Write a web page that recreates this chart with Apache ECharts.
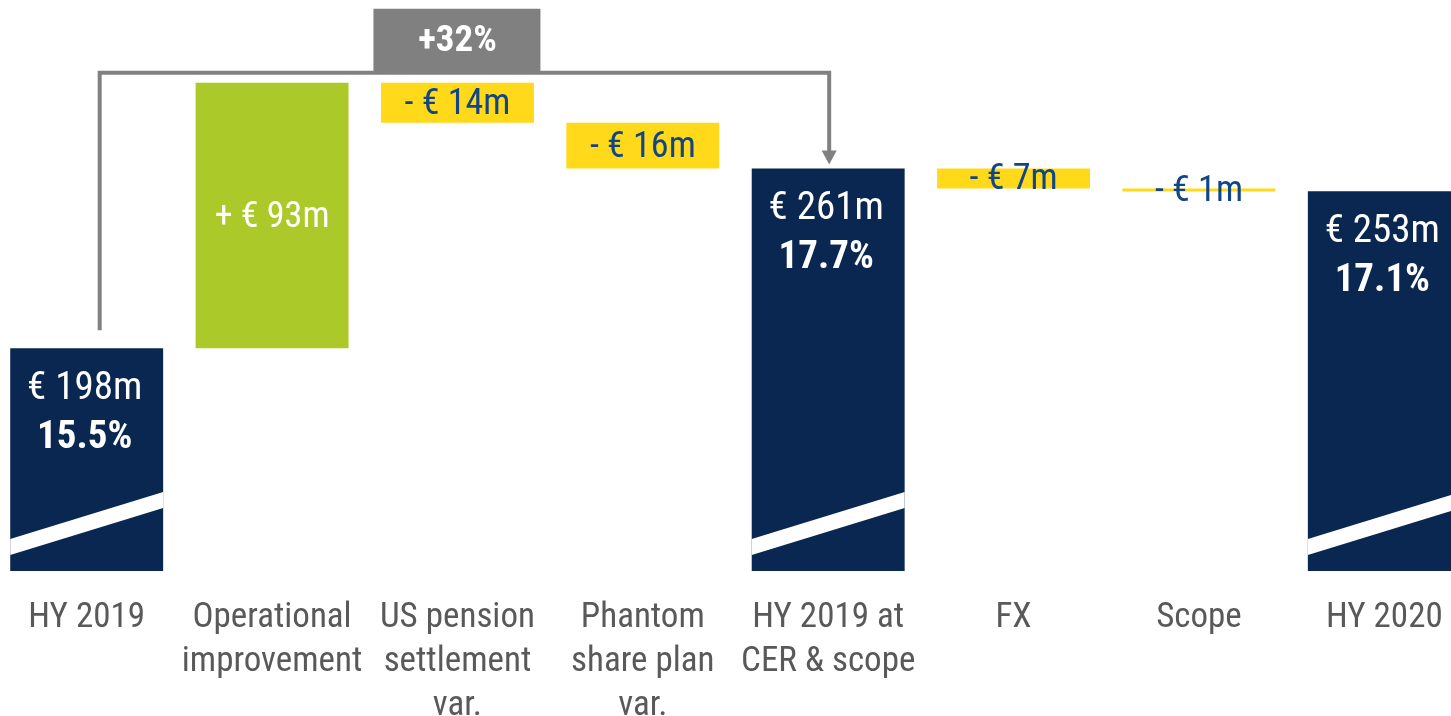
<!DOCTYPE html>
<html>
<head>
<meta charset="utf-8">
<script src="https://cdn.jsdelivr.net/npm/echarts@6/dist/echarts.min.js"></script>
<style>
html,body{margin:0;padding:0;background:#fff;}
#c{width:1451px;height:716px;}
</style>
</head>
<body>
<div id="c"></div>
<script>
const categories = ['HY 2019', 'Operational\nimprovement', 'US pension\nsettlement\nvar.', 'Phantom\nshare plan\nvar.', 'HY 2019 at\nCER & scope', 'FX', 'Scope', 'HY 2020'];
const values = [198, 93, -14, -16, 261, -7, -1, 253];
const kinds = ['total', 'delta', 'delta', 'delta', 'total', 'delta', 'delta', 'total'];
const valueLabels = ['€ 198m', '+ € 93m', '- € 14m', '- € 16m', '€ 261m', '- € 7m', '- € 1m', '€ 253m'];
const marginLabels = ['15.5%', '', '', '', '17.7%', '', '', '17.1%'];
const growthLabel = '+32%';
const growthFrom = 0, growthTo = 4, growthLabelAt = 2;
const axisBreakMin = 120;
const axisMax = 320;

const FONT = "'Roboto Condensed','Liberation Sans Narrow','Arial Narrow',Arial,sans-serif";
const NAVY = '#0a2752', GREEN = '#acc92a', YELLOW = '#ffd91a', TEXTBLUE = '#124585', GREY = '#808080';

// build waterfall segments
let running = 0, maxLevel = 0;
const segs = values.map((v, i) => {
  let s, e;
  if (kinds[i] === 'total') { s = axisBreakMin; e = v; running = v; }
  else { s = running; e = running + v; running = e; }
  maxLevel = Math.max(maxLevel, s, e);
  return [i, s, e];
});

const chart = echarts.init(document.getElementById('c'), null, {renderer: 'canvas'});

function renderBar(params, api) {
  const i = api.value(0), s = api.value(1), e = api.value(2);
  const p0 = api.coord([i, s]), p1 = api.coord([i, e]);
  const bw = api.size([1, 0])[0] * 0.825;
  const x = p0[0] - bw / 2;
  const top = Math.min(p0[1], p1[1]);
  const h = Math.max(Math.abs(p0[1] - p1[1]), 3);
  const kind = kinds[i];
  const children = [];
  if (kind === 'total') {
    children.push({type: 'rect', shape: {x: x, y: top, width: bw, height: Math.abs(p0[1] - p1[1])}, style: {fill: NAVY}});
    const b = p0[1];
    children.push({type: 'polygon', shape: {points: [[x, b - 32], [x + bw, b - 79], [x + bw, b - 63], [x, b - 16]]}, style: {fill: '#ffffff'}});
    children.push({type: 'text', style: {text: valueLabels[i], x: p0[0] - 2, y: top + 41, align: 'center', verticalAlign: 'middle', fill: '#ffffff', font: '39px ' + FONT}});
    children.push({type: 'text', style: {text: marginLabels[i], x: p0[0] - 2, y: top + 90, align: 'center', verticalAlign: 'middle', fill: '#ffffff', font: 'bold 39px ' + FONT}});
  } else {
    const up = e > s;
    children.push({type: 'rect', shape: {x: x, y: top, width: bw, height: h}, style: {fill: up ? GREEN : YELLOW}});
    children.push({type: 'text', style: {text: valueLabels[i], x: p0[0], y: top + h / 2 + 2, align: 'center', verticalAlign: 'middle', fill: up ? '#ffffff' : TEXTBLUE, font: '36px ' + FONT}});
  }
  return {type: 'group', children: children};
}

function renderConnector(params, api) {
  const a = api.value(0), b = api.value(1), va = api.value(2), vb = api.value(3), lvl = api.value(4), li = api.value(5);
  const pa = api.coord([a, va]), pb = api.coord([b, vb]);
  const yl = api.coord([a, lvl])[1] - 10;
  const x0 = pa[0] + 13, y0 = pa[1] - 18;
  const x1 = pb[0] + 1, y1 = pb[1] - 4;
  const lx = api.coord([li, lvl])[0];
  return {type: 'group', children: [
    {type: 'polyline', shape: {points: [[x0, y0], [x0, yl], [x1, yl], [x1, y1 - 13]]}, style: {stroke: GREY, lineWidth: 4, fill: null, lineJoin: 'miter'}},
    {type: 'polygon', shape: {points: [[x1 - 7.5, y1 - 14], [x1 + 7.5, y1 - 14], [x1, y1]]}, style: {fill: GREY}},
    {type: 'rect', shape: {x: lx - 84, y: yl - 64, width: 167, height: 63}, style: {fill: GREY}},
    {type: 'text', style: {text: growthLabel, x: lx, y: yl - 31, align: 'center', verticalAlign: 'middle', fill: '#ffffff', font: 'bold 37px ' + FONT}}
  ]};
}

chart.setOption({
  animation: false,
  grid: {left: -6, right: -26, top: 0, bottom: 145, containLabel: false, outerBoundsMode: 'none'},
  xAxis: {
    type: 'category', data: categories,
    axisLine: {show: false}, axisTick: {show: false}, splitLine: {show: false},
    axisLabel: {interval: 0, margin: 25, color: '#595959', fontFamily: FONT, fontSize: 35, lineHeight: 44}
  },
  yAxis: {type: 'value', min: axisBreakMin, max: axisMax, show: false, splitLine: {show: false}},
  series: [
    {type: 'custom', renderItem: renderBar, data: segs, clip: false},
    {type: 'custom', renderItem: renderConnector, clip: false,
     data: [[growthFrom, growthTo, values[growthFrom], values[growthTo], maxLevel, growthLabelAt]]}
  ]
});
</script>
</body>
</html>
